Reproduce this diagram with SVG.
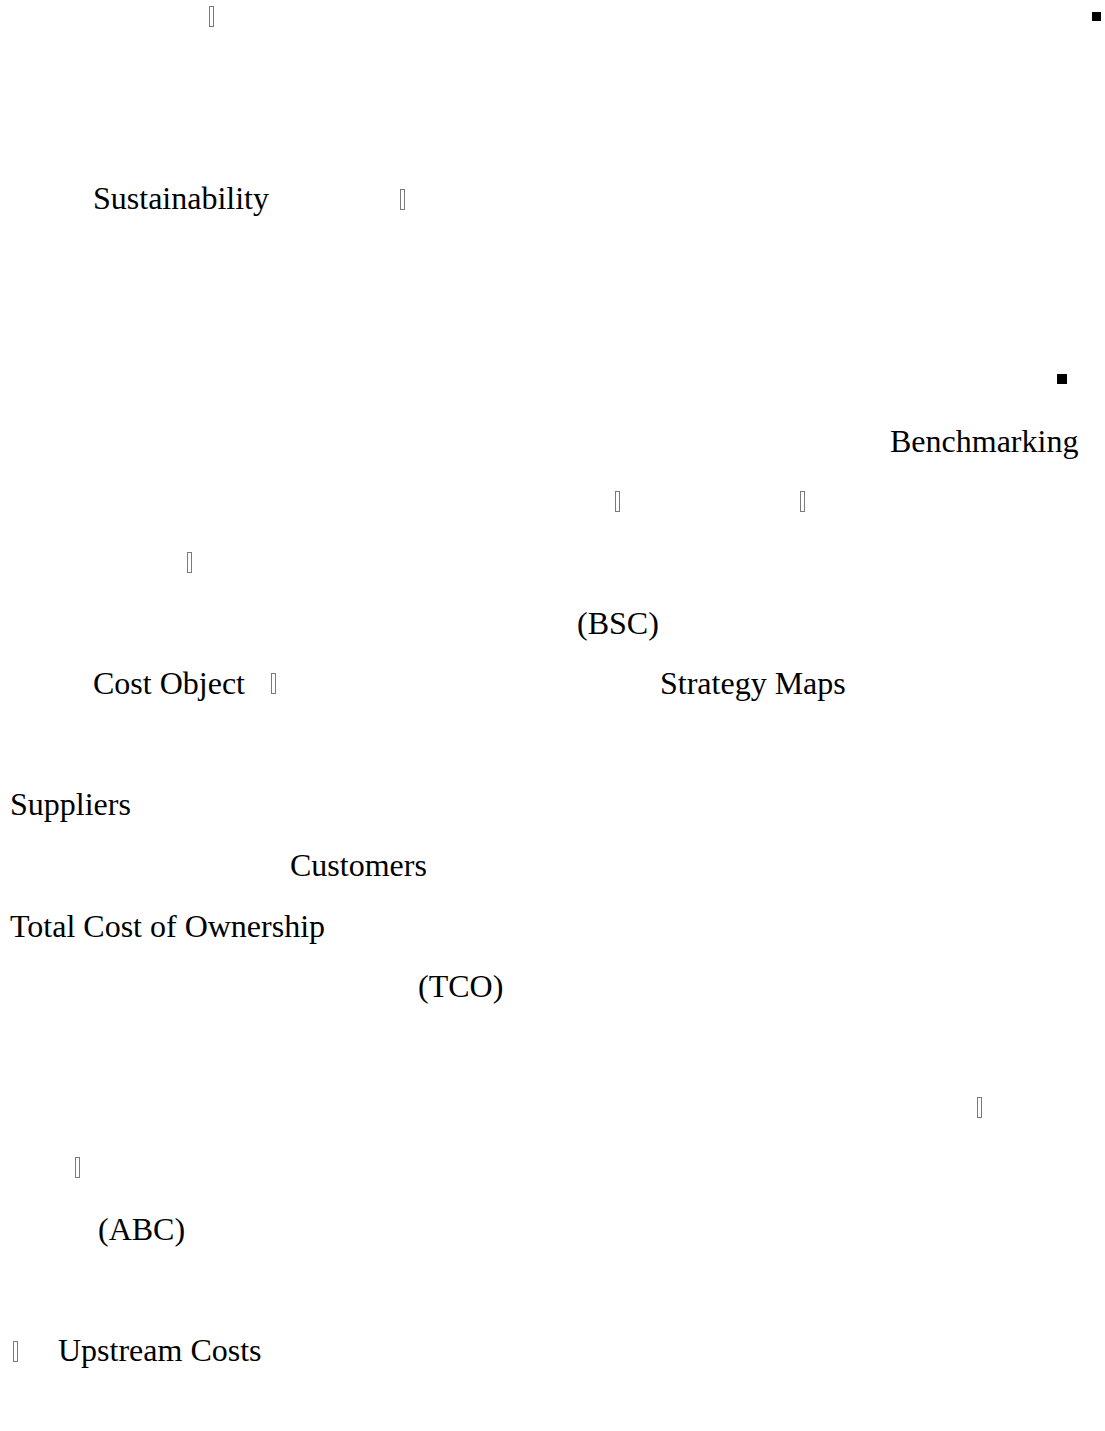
<svg xmlns="http://www.w3.org/2000/svg" width="1105" height="1431" viewBox="0 0 1105 1431">
  <style>
    .t { font-family: "Liberation Serif", "Times New Roman", serif; font-size: 32px; fill: #000; }
    .tofu { fill: none; stroke: #7a7a7a; stroke-width: 1; }
    .sq { fill: #000; }
  </style>
  <rect width="1105" height="1431" fill="#fff"/>
  <g id="line-top">
    <rect class="tofu" x="209.5" y="6.5" width="4" height="20"/>
    <rect class="sq" x="1092" y="12" width="9" height="9"/>
  </g>
  <g id="sustainability">
    <text class="t" x="93" y="209">Sustainability</text>
    <rect class="tofu" x="400.5" y="189.5" width="4" height="20"/>
  </g>
  <g id="bullet-2">
    <rect class="sq" x="1057" y="374" width="10" height="10"/>
  </g>
  <g id="benchmarking">
    <text class="t" x="890" y="452">Benchmarking</text>
  </g>
  <g id="line-5">
    <rect class="tofu" x="615.5" y="491.5" width="4" height="20"/>
    <rect class="tofu" x="800.5" y="491.5" width="4" height="20"/>
  </g>
  <g id="line-6">
    <rect class="tofu" x="187.5" y="552.5" width="4" height="20"/>
  </g>
  <g id="bsc">
    <text class="t" x="577" y="634">(BSC)</text>
  </g>
  <g id="cost-object">
    <text class="t" x="93" y="694">Cost Object</text>
    <rect class="tofu" x="271.5" y="673.5" width="4" height="20"/>
  </g>
  <g id="strategy-maps">
    <text class="t" x="660" y="694">Strategy Maps</text>
  </g>
  <g id="suppliers">
    <text class="t" x="10" y="815">Suppliers</text>
  </g>
  <g id="customers">
    <text class="t" x="290" y="876">Customers</text>
  </g>
  <g id="tco">
    <text class="t" x="10" y="937">Total Cost of Ownership</text>
    <text class="t" x="418" y="997">(TCO)</text>
  </g>
  <g id="line-15">
    <rect class="tofu" x="977.5" y="1097.5" width="4" height="20"/>
  </g>
  <g id="line-16">
    <rect class="tofu" x="75.5" y="1157.5" width="4" height="20"/>
  </g>
  <g id="abc">
    <text class="t" x="98" y="1240">(ABC)</text>
  </g>
  <g id="upstream-costs">
    <rect class="tofu" x="13.5" y="1341.5" width="4" height="20"/>
    <text class="t" x="58" y="1361">Upstream Costs</text>
  </g>
</svg>
